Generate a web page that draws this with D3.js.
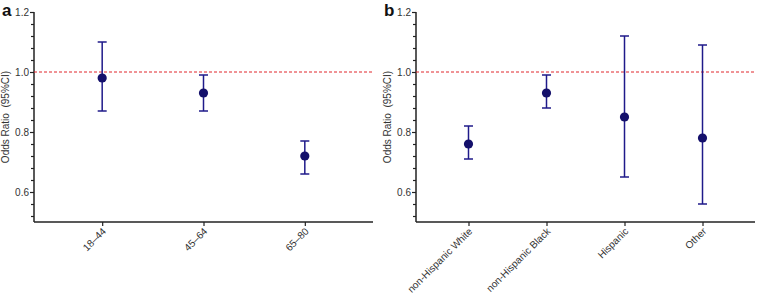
<!DOCTYPE html>
<html>
<head>
<meta charset="utf-8">
<script src="https://cdn.jsdelivr.net/npm/d3@7"></script>
<style>
  body { margin: 0; background: #fff; }
  svg text { font-family: "Liberation Sans", Arial, sans-serif; }
</style>
</head>
<body>
<div id="chart"></div>
<script>
// panel a: age groups
const ageGroups = ["18\u201344", "45\u201364", "65\u201380"];
const ageOR = [0.98, 0.93, 0.72];
const ageLow = [0.87, 0.87, 0.66];
const ageHigh = [1.10, 0.99, 0.77];

// panel b: race / ethnicity
const raceGroups = ["non-Hispanic White", "non-Hispanic Black", "Hispanic", "Other"];
const raceOR = [0.76, 0.93, 0.85, 0.78];
const raceLow = [0.71, 0.88, 0.65, 0.56];
const raceHigh = [0.82, 0.99, 1.12, 1.09];

const yTicks = [0.6, 0.8, 1.0, 1.2];
const refLine = 1.0;

const W = 759, H = 301;
const navy = "#1f1a8a";
const dotColor = "#14106b";

const svg = d3.select("#chart").append("svg")
  .attr("width", W).attr("height", H);

function panel(letter, left, right, cats, or, lo, hi){
  const top = 12, bottom = 222;
  const g = svg.append("g");

  const y = d3.scaleLinear().domain([0.5, 1.2]).range([bottom, top]);
  const x = d3.scalePoint().domain(cats).range([left, right]).padding(0.673);

  // minor ticks
  const minor = d3.range(0.52, 1.2, 0.04).filter(v => !yTicks.some(t => Math.abs(t - v) < 1e-6));
  g.append("g")
    .attr("transform", `translate(${left},0)`)
    .call(d3.axisLeft(y).tickValues(minor).tickSize(3).tickFormat(""))
    .call(a => a.select(".domain").remove())
    .call(a => a.selectAll("line").attr("stroke", "#222").attr("stroke-width", 1.2));

  // y axis
  g.append("g")
    .attr("transform", `translate(${left},0)`)
    .call(d3.axisLeft(y).tickValues(yTicks).tickSize(4).tickSizeOuter(0).tickFormat(d3.format(".1f")))
    .call(a => a.select(".domain").attr("stroke", "#222").attr("stroke-width", 1.5)
      .attr("d", `M0,${bottom}V${top}`))
    .call(a => a.selectAll("line").attr("stroke", "#222").attr("stroke-width", 1.2))
    .call(a => a.selectAll("text").attr("font-size", 10).attr("fill", "#333").attr("x", -5));

  // x axis
  g.append("g")
    .attr("transform", `translate(0,${bottom})`)
    .call(d3.axisBottom(x).tickSize(4).tickSizeOuter(0))
    .call(a => a.select(".domain").attr("stroke", "#222").attr("stroke-width", 1.5)
      .attr("d", `M${left},0H${right}`))
    .call(a => a.selectAll("line").attr("stroke", "#222").attr("stroke-width", 1.2))
    .call(a => a.selectAll("text")
      .attr("font-size", 10).attr("fill", "#333")
      .attr("text-anchor", "end")
      .attr("dy", null).attr("y", 0)
      .attr("transform", "translate(4,10) rotate(-45)"));

  // reference line
  g.append("line")
    .attr("x1", left).attr("x2", right)
    .attr("y1", y(refLine)).attr("y2", y(refLine))
    .attr("stroke", "#e0262c").attr("stroke-width", 1)
    .attr("stroke-dasharray", "3,2");

  // y label
  g.append("text")
    .attr("transform", `translate(${left - 25},${(top + bottom) / 2}) rotate(-90)`)
    .attr("text-anchor", "middle")
    .attr("font-size", 10).attr("fill", "#333")
    .attr("xml:space", "preserve")
    .text("Odds Ratio  (95%CI)");

  // panel letter
  g.append("text")
    .attr("x", left - 32).attr("y", 16)
    .attr("font-size", 17).attr("font-weight", "bold").attr("fill", "#111")
    .text(letter);

  const rows = cats.map((c, i) => ({c, or: or[i], lo: lo[i], hi: hi[i]}));
  const cap = 4.5;
  const eb = g.append("g").selectAll("g").data(rows).join("g");
  eb.append("line")
    .attr("x1", d => x(d.c)).attr("x2", d => x(d.c))
    .attr("y1", d => y(d.lo)).attr("y2", d => y(d.hi))
    .attr("stroke", navy).attr("stroke-width", 1.5);
  eb.append("line")
    .attr("x1", d => x(d.c) - cap).attr("x2", d => x(d.c) + cap)
    .attr("y1", d => y(d.hi)).attr("y2", d => y(d.hi))
    .attr("stroke", navy).attr("stroke-width", 1.5);
  eb.append("line")
    .attr("x1", d => x(d.c) - cap).attr("x2", d => x(d.c) + cap)
    .attr("y1", d => y(d.lo)).attr("y2", d => y(d.lo))
    .attr("stroke", navy).attr("stroke-width", 1.5);
  eb.append("circle")
    .attr("cx", d => x(d.c)).attr("cy", d => y(d.or))
    .attr("r", 4.6).attr("fill", dotColor);
}

panel("a", 34, 373, ageGroups, ageOR, ageLow, ageHigh);
panel("b", 416, 755, raceGroups, raceOR, raceLow, raceHigh);
</script>
</body>
</html>
